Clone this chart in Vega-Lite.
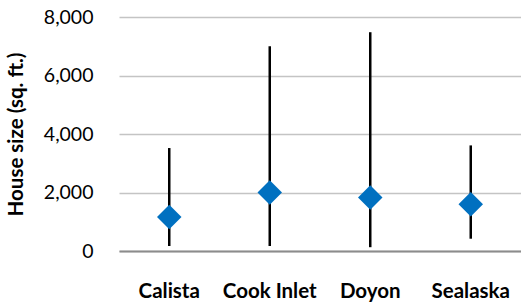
{
  "$schema": "https://vega.github.io/schema/vega-lite/v6.json",
  "width": 402,
  "height": 234,
  "autosize": {"type": "none"},
  "padding": {"left": 119, "top": 17, "right": 0, "bottom": 54},
  "background": "white",
  "config": {
    "view": {"stroke": null},
    "font": "Lato"
  },
  "data": {
    "values": [
      {"region": "Calista", "low": 170, "high": 3520, "mean": 1160},
      {"region": "Cook Inlet", "low": 170, "high": 7000, "mean": 2000},
      {"region": "Doyon", "low": 130, "high": 7480, "mean": 1830},
      {"region": "Sealaska", "low": 420, "high": 3610, "mean": 1600}
    ]
  },
  "encoding": {
    "x": {
      "field": "region",
      "type": "nominal",
      "sort": null,
      "scale": {"paddingInner": 0, "paddingOuter": 0},
      "axis": {
        "title": null,
        "labelAngle": 0,
        "labelFont": "Lato",
        "labelFontSize": 20.5,
        "labelFontWeight": "bold",
        "labelColor": "#000000",
        "labelPadding": 30,
        "ticks": false,
        "domainColor": "#8c8c8c",
        "domainWidth": 2
      }
    }
  },
  "layer": [
    {
      "mark": {"type": "rule", "color": "#000000", "strokeWidth": 2.5},
      "encoding": {
        "y": {
          "field": "low",
          "type": "quantitative",
          "scale": {"domain": [0, 8000], "nice": false},
          "axis": {
            "title": "House size (sq. ft.)",
            "titleFont": "Lato",
            "titleFontSize": 20.5,
            "titleFontWeight": "bold",
            "titleColor": "#000000",
            "titlePadding": 17,
            "values": [0, 1000, 2000, 3000, 4000, 5000, 6000, 7000, 8000],
            "labelExpr": "datum.value % 2000 === 0 ? format(datum.value, ',') : ''",
            "labelFont": "Lato",
            "labelFontSize": 19.5,
            "labelColor": "#000000",
            "labelPadding": 26,
            "ticks": false,
            "domain": false,
            "gridColor": "#c4c4c4",
            "gridWidth": 1.3
          }
        },
        "y2": {"field": "high"}
      }
    },
    {
      "mark": {"type": "point", "shape": "diamond", "filled": true, "size": 600, "color": "#0070c0", "opacity": 1},
      "encoding": {
        "y": {"field": "mean", "type": "quantitative"}
      }
    }
  ]
}
